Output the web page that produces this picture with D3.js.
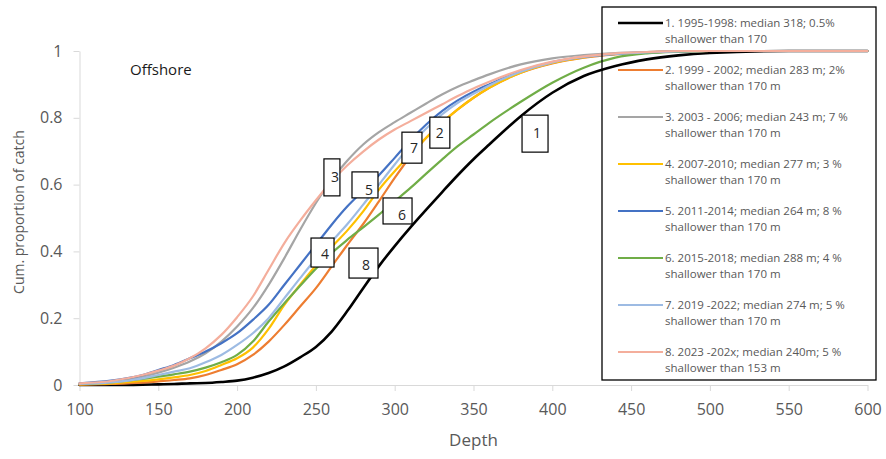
<!DOCTYPE html>
<html>
<head>
<meta charset="utf-8">
<script src="https://cdn.jsdelivr.net/npm/d3@7"></script>
<style>
  html, body { margin: 0; padding: 0; background: #fff; }
  svg { display: block; font-family: "Open Sans", "DejaVu Sans", sans-serif; }
</style>
</head>
<body>
<svg id="chart" width="886" height="459"></svg>
<script>
// ---------- data ----------
const depths = [100,120,140,150,160,170,180,190,200,210,220,230,240,250,260,270,280,290,300,310,320,330,340,350,360,380,400,420,440,460,480,500,550,600];

const s1 = [0,0,0.001,0.002,0.003,0.005,0.006,0.009,0.013,0.022,0.036,0.056,0.083,0.114,0.16,0.222,0.29,0.356,0.416,0.472,0.525,0.577,0.628,0.676,0.72,0.805,0.875,0.925,0.955,0.975,0.987,0.994,1,1];
const s2 = [0.001,0.003,0.007,0.011,0.015,0.02,0.03,0.045,0.062,0.09,0.13,0.18,0.235,0.29,0.355,0.42,0.482,0.55,0.62,0.685,0.74,0.785,0.825,0.86,0.89,0.935,0.963,0.98,0.99,0.996,0.999,1,1,1];
const s3 = [0.004,0.01,0.025,0.037,0.052,0.07,0.095,0.13,0.175,0.23,0.30,0.38,0.465,0.545,0.615,0.672,0.72,0.757,0.787,0.815,0.843,0.87,0.893,0.912,0.93,0.96,0.978,0.988,0.994,0.997,1,1,1,1];
const s4 = [0.002,0.005,0.012,0.017,0.023,0.03,0.042,0.06,0.08,0.112,0.168,0.24,0.3,0.358,0.413,0.463,0.52,0.585,0.64,0.69,0.74,0.785,0.825,0.86,0.89,0.935,0.964,0.981,0.991,0.996,0.999,1,1,1];
const s5 = [0.005,0.013,0.03,0.045,0.06,0.08,0.10,0.125,0.155,0.195,0.24,0.30,0.36,0.42,0.48,0.535,0.582,0.628,0.68,0.733,0.78,0.82,0.852,0.878,0.90,0.94,0.967,0.982,0.991,0.996,0.999,1,1,1];
const s6 = [0.003,0.008,0.018,0.025,0.032,0.04,0.052,0.068,0.09,0.13,0.19,0.245,0.297,0.348,0.395,0.435,0.472,0.51,0.55,0.59,0.633,0.675,0.715,0.75,0.785,0.848,0.905,0.95,0.98,0.993,0.998,1,1,1];
const s7 = [0.003,0.008,0.02,0.03,0.04,0.05,0.068,0.09,0.12,0.155,0.2,0.26,0.32,0.378,0.43,0.482,0.54,0.6,0.66,0.718,0.768,0.81,0.845,0.872,0.897,0.938,0.966,0.982,0.991,0.996,0.999,1,1,1];
const s8 = [0.005,0.012,0.03,0.043,0.058,0.08,0.11,0.15,0.203,0.265,0.345,0.425,0.492,0.553,0.61,0.658,0.699,0.735,0.765,0.79,0.815,0.84,0.865,0.888,0.908,0.943,0.968,0.984,0.993,0.997,1,1,1,1];

const seriesValues = [s1, s2, s3, s4, s5, s6, s7, s8];
const seriesNames = [
  ["1. 1995-1998: median 318; 0.5%", "shallower than 170"],
  ["2. 1999 - 2002; median 283 m; 2%", "shallower than 170 m"],
  ["3. 2003 - 2006; median 243 m; 7 %", "shallower than 170 m"],
  ["4. 2007-2010; median 277 m; 3 %", "shallower than 170 m"],
  ["5. 2011-2014; median 264 m; 8 %", "shallower than 170 m"],
  ["6. 2015-2018; median 288 m; 4 %", "shallower than 170 m"],
  ["7. 2019 -2022; median 274 m; 5 %", "shallower than 170 m"],
  ["8. 2023 -202x; median 240m; 5 %", "shallower than 153 m"]
];
const xTicks = [100,150,200,250,300,350,400,450,500,550,600];
const yTicks = [0,0.2,0.4,0.6,0.8,1];

// annotation labels (anchor = top-left corner in data units)
const labelText  = ["1","2","3","4","5","6","7","8"];
const labelDepth = [380.8, 322.3, 255.1, 246.9, 272.9, 292.6, 304.6, 271.0];
const labelProp  = [0.808, 0.802, 0.677, 0.440, 0.638, 0.560, 0.757, 0.410];

// ---------- styles / layout ----------
const colors = ["#000000","#ED7D31","#A5A5A5","#FFC000","#4472C4","#70AD47","#9DBBE3","#F4AE9C"];
const widths = [2.6,2.2,2.2,2.2,2.2,2.2,2.2,2.2];
const boxW = [26,20,16,23,26,29,20,29];
const boxH = [37,31,37,29,26,26,31,30];
const txtDx = [15,10,11,14,17,19,12,17];
const txtDy = [18,16,18,16,18,17,16,17];

const svg = d3.select("#chart");
svg.append("rect").attr("width",886).attr("height",459).attr("fill","#fff");

const x = d3.scaleLinear().domain([100,600]).range([79.5,867.5]);
const y = d3.scaleLinear().domain([0,1]).range([385,51]);

const axisColor = "#d9d9d9";
const textColor = "#595959";

// x axis
const gx = svg.append("g").attr("transform","translate(0,385)")
  .call(d3.axisBottom(x).tickValues(xTicks).tickFormat(d3.format("d")).tickSize(6).tickSizeOuter(0).tickPadding(13));
gx.select(".domain").attr("stroke",axisColor).attr("stroke-width",1);
gx.selectAll(".tick line").attr("stroke",axisColor);
gx.selectAll(".tick text").attr("fill",textColor).attr("font-size",16).attr("font-family","Open Sans, sans-serif");

// y axis
const gy = svg.append("g").attr("transform","translate(79.5,0)")
  .call(d3.axisLeft(y).tickValues(yTicks).tickFormat(d => d === 0 ? "0" : d === 1 ? "1" : d3.format(".1f")(d)).tickSize(6).tickSizeOuter(0).tickPadding(11));
gy.select(".domain").attr("stroke",axisColor).attr("stroke-width",1);
gy.selectAll(".tick line").attr("stroke",axisColor);
gy.selectAll(".tick text").attr("fill",textColor).attr("font-size",16).attr("font-family","Open Sans, sans-serif");

// axis titles
svg.append("text").attr("x",(x(100)+x(600))/2).attr("y",446)
  .attr("text-anchor","middle").attr("fill",textColor).attr("font-size",17).text("Depth");
svg.append("text").attr("transform","translate(24,212) rotate(-90)")
  .attr("text-anchor","middle").attr("fill",textColor).attr("font-size",14).text("Cum. proportion of catch");

// Offshore
svg.append("text").attr("x",130).attr("y",75).attr("fill","#1a1a1a").attr("font-size",15).text("Offshore");

// lines
const line = d3.line().x((d,i) => x(depths[i])).y(d => y(d)).curve(d3.curveMonotoneX);
seriesValues.forEach((vals, k) => {
  svg.append("path").datum(vals).attr("d", line)
    .attr("fill","none").attr("stroke",colors[k]).attr("stroke-width",widths[k])
    .attr("stroke-linejoin","round").attr("stroke-linecap","round");
});

// legend
const lg = svg.append("g");
lg.append("rect").attr("x",602).attr("y",7).attr("width",274).attr("height",373)
  .attr("fill","none").attr("stroke","#000").attr("stroke-width",1.3);
seriesNames.forEach((nm, k) => {
  const yy = 23 + 47*k;
  lg.append("line").attr("x1",618).attr("x2",663).attr("y1",yy).attr("y2",yy)
    .attr("stroke",colors[k]).attr("stroke-width",widths[k]);
  const t = lg.append("text").attr("x",665).attr("y",yy).attr("fill",textColor).attr("font-size",11.5);
  t.append("tspan").attr("x",665).attr("dy","0.35em").text(nm[0]);
  t.append("tspan").attr("x",665).attr("dy",16).text(nm[1]);
});

// annotation boxes
labelText.forEach((lab, k) => {
  const bx = x(labelDepth[k]), by = y(labelProp[k]);
  svg.append("rect").attr("x",bx).attr("y",by).attr("width",boxW[k]).attr("height",boxH[k])
    .attr("fill","#fff").attr("stroke","#000").attr("stroke-width",1.2);
  svg.append("text").attr("x",bx+txtDx[k]).attr("y",by+txtDy[k]).attr("dy","0.35em")
    .attr("text-anchor","middle").attr("fill","#262626").attr("font-size",14).text(lab);
});
</script>
</body>
</html>
